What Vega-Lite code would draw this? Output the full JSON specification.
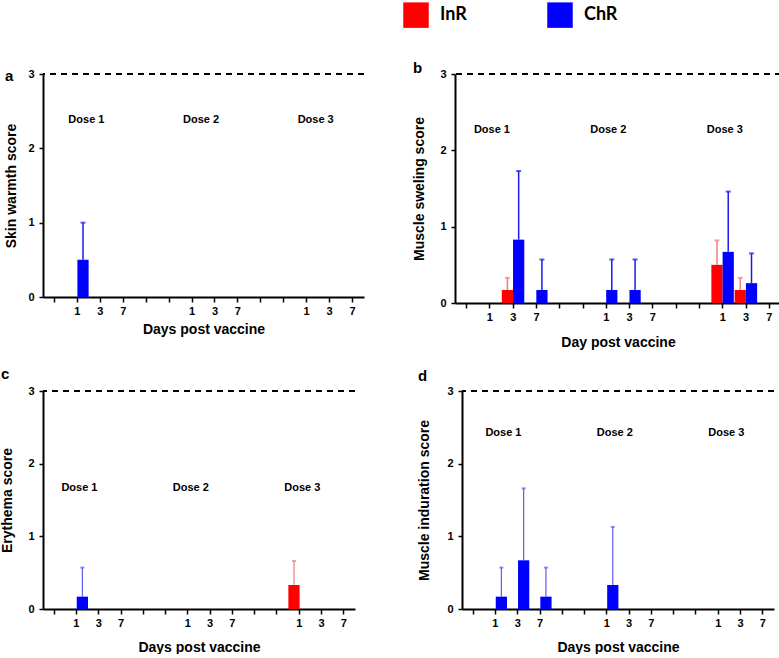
{
  "$schema": "https://vega.github.io/schema/vega-lite/v6.json",
  "padding": {"left": 0, "top": 2, "right": 0, "bottom": 0},
  "background": "white",
  "datasets": {
    "bars": [
      {"panel": "a", "pos": 1, "series": "ChR", "mean": 0.5, "upper": 1.0},
      {"panel": "b", "pos": 2, "series": "InR", "mean": 0.17, "upper": 0.33},
      {"panel": "b", "pos": 2, "series": "ChR", "mean": 0.83, "upper": 1.73},
      {"panel": "b", "pos": 3, "series": "ChR", "mean": 0.17, "upper": 0.57},
      {"panel": "b", "pos": 6, "series": "ChR", "mean": 0.17, "upper": 0.57},
      {"panel": "b", "pos": 7, "series": "ChR", "mean": 0.17, "upper": 0.57},
      {"panel": "b", "pos": 11, "series": "InR", "mean": 0.5, "upper": 0.82},
      {"panel": "b", "pos": 11, "series": "ChR", "mean": 0.67, "upper": 1.46},
      {"panel": "b", "pos": 12, "series": "InR", "mean": 0.17, "upper": 0.33},
      {"panel": "b", "pos": 12, "series": "ChR", "mean": 0.26, "upper": 0.65},
      {"panel": "c", "pos": 1, "series": "ChR", "mean": 0.17, "upper": 0.57},
      {"panel": "c", "pos": 11, "series": "InR", "mean": 0.33, "upper": 0.66},
      {"panel": "d", "pos": 1, "series": "ChR", "mean": 0.17, "upper": 0.57},
      {"panel": "d", "pos": 2, "series": "ChR", "mean": 0.67, "upper": 1.66},
      {"panel": "d", "pos": 3, "series": "ChR", "mean": 0.17, "upper": 0.57},
      {"panel": "d", "pos": 6, "series": "ChR", "mean": 0.33, "upper": 1.13}
    ],
    "doses": [
      {"label": "Dose 1", "pos": 1},
      {"label": "Dose 2", "pos": 6},
      {"label": "Dose 3", "pos": 11}
    ],
    "limit": [{"max_score": 3}]
  },
  "vconcat": [
    {
      "hconcat": [
        {
          "width": 321, "height": 223,
          "title": {"text": "a", "anchor": "start", "frame": "bounds", "offset": -16, "fontSize": 15, "fontWeight": "bold", "font": "Liberation Sans", "color": "black"},
          "layer": [
            {"data": {"name": "bars"}, "transform": [{"filter": "datum.panel === 'a'"}],
             "mark": {"type": "bar"},
             "encoding": {
               "x": {"field": "pos", "type": "ordinal", "scale": {"domain": [0,1,2,3,4,5,6,7,8,9,10,11,12,13], "paddingInner": 0, "paddingOuter": 0},
                     "axis": {"title": "Days post vaccine", "labelAngle": 0, "tickSize": 5, "labelPadding": 3, "titlePadding": 6,
                              "labelExpr": "indexof([1,6,11], datum.value) >= 0 ? '1' : indexof([2,7,12], datum.value) >= 0 ? '3' : indexof([3,8,13], datum.value) >= 0 ? '7' : ''"}},
               "xOffset": {"field": "series", "type": "nominal", "scale": {"domain": ["InR", "ChR"], "paddingOuter": 0.02}},
               "y": {"field": "mean", "type": "quantitative", "scale": {"domain": [0, 3], "nice": false},
                     "axis": {"title": "Skin warmth score", "values": [0,1,2,3], "format": "d", "tickSize": 4, "labelPadding": 5, "titlePadding": 9}},
               "color": {"field": "series", "type": "nominal", "scale": {"domain": ["InR", "ChR"], "range": ["#FF0000", "#0000FF"]},
                         "legend": {"title": null, "orient": "none", "legendX": 360, "legendY": -72, "direction": "horizontal", "symbolType": "square", "symbolSize": 650, "symbolStrokeWidth": 0, "labelFont": "Lato", "labelFontSize": 18, "labelFontWeight": "bold", "labelColor": "black", "columnPadding": 80, "labelOffset": 11}}
             }},
            {"data": {"name": "bars"}, "transform": [{"filter": "datum.panel === 'a'"}],
             "mark": {"type": "rule", "strokeWidth": 1.5},
             "encoding": {
               "x": {"field": "pos", "type": "ordinal"},
               "xOffset": {"field": "series", "type": "nominal"},
               "y": {"field": "mean", "type": "quantitative"},
               "y2": {"field": "upper"},
               "color": {"condition": {"test": "datum.series === 'InR'", "value": "#F07C7C"}, "value": "#1A1AE6"}
             }},
            {"data": {"name": "bars"}, "transform": [{"filter": "datum.panel === 'a'"}],
             "mark": {"type": "tick", "size": 5, "thickness": 2},
             "encoding": {
               "x": {"field": "pos", "type": "ordinal"},
               "xOffset": {"field": "series", "type": "nominal"},
               "y": {"field": "upper", "type": "quantitative"},
               "color": {"condition": {"test": "datum.series === 'InR'", "value": "#F07C7C"}, "value": "#1A1AE6"}
             }},
            {"data": {"name": "limit"},
             "mark": {"type": "rule", "strokeDash": [6, 5], "strokeWidth": 2, "color": "black"},
             "encoding": {"y": {"field": "max_score", "type": "quantitative"}}},
            {"data": {"name": "doses"},
             "mark": {"type": "text", "font": "Liberation Sans", "fontWeight": "bold", "fontSize": 11, "color": "black", "dx": 9},
             "encoding": {"x": {"field": "pos", "type": "ordinal"}, "y": {"datum": 2.38}, "text": {"field": "label"}}}
          ]
        },
        {
          "width": 326, "height": 229,
          "title": {"text": "b", "anchor": "start", "frame": "bounds", "offset": -8, "fontSize": 15, "fontWeight": "bold", "font": "Liberation Sans", "color": "black"},
          "layer": [
            {"data": {"name": "bars"}, "transform": [{"filter": "datum.panel === 'b'"}],
             "mark": {"type": "bar"},
             "encoding": {
               "x": {"field": "pos", "type": "ordinal", "scale": {"domain": [0,1,2,3,4,5,6,7,8,9,10,11,12,13], "paddingInner": 0, "paddingOuter": 0},
                     "axis": {"title": "Day post vaccine", "labelAngle": 0, "tickSize": 5, "labelPadding": 3, "titlePadding": 13,
                              "labelExpr": "indexof([1,6,11], datum.value) >= 0 ? '1' : indexof([2,7,12], datum.value) >= 0 ? '3' : indexof([3,8,13], datum.value) >= 0 ? '7' : ''"}},
               "xOffset": {"field": "series", "type": "nominal", "scale": {"domain": ["InR", "ChR"], "paddingOuter": 0.3}},
               "y": {"field": "mean", "type": "quantitative", "scale": {"domain": [0, 3], "nice": false},
                     "axis": {"title": "Muscle sweling score", "values": [0,1,2,3], "format": "d", "tickSize": 4, "labelPadding": 5, "titlePadding": 13}},
               "color": {"field": "series", "type": "nominal", "scale": {"domain": ["InR", "ChR"], "range": ["#FF0000", "#0000FF"]},
                         "legend": {"title": null, "orient": "none", "legendX": 360, "legendY": -72, "direction": "horizontal", "symbolType": "square", "symbolSize": 650, "symbolStrokeWidth": 0, "labelFont": "Lato", "labelFontSize": 18, "labelFontWeight": "bold", "labelColor": "black", "columnPadding": 80, "labelOffset": 11}}
             }},
            {"data": {"name": "bars"}, "transform": [{"filter": "datum.panel === 'b'"}],
             "mark": {"type": "rule", "strokeWidth": 1.5},
             "encoding": {
               "x": {"field": "pos", "type": "ordinal"},
               "xOffset": {"field": "series", "type": "nominal"},
               "y": {"field": "mean", "type": "quantitative"},
               "y2": {"field": "upper"},
               "color": {"condition": {"test": "datum.series === 'InR'", "value": "#F07C7C"}, "value": "#1A1AE6"}
             }},
            {"data": {"name": "bars"}, "transform": [{"filter": "datum.panel === 'b'"}],
             "mark": {"type": "tick", "size": 5, "thickness": 2},
             "encoding": {
               "x": {"field": "pos", "type": "ordinal"},
               "xOffset": {"field": "series", "type": "nominal"},
               "y": {"field": "upper", "type": "quantitative"},
               "color": {"condition": {"test": "datum.series === 'InR'", "value": "#F07C7C"}, "value": "#1A1AE6"}
             }},
            {"data": {"name": "limit"},
             "mark": {"type": "rule", "strokeDash": [6, 5], "strokeWidth": 2, "color": "black"},
             "encoding": {"y": {"field": "max_score", "type": "quantitative"}}},
            {"data": {"name": "doses"},
             "mark": {"type": "text", "font": "Liberation Sans", "fontWeight": "bold", "fontSize": 11, "color": "black", "dx": 2},
             "encoding": {"x": {"field": "pos", "type": "ordinal"}, "y": {"datum": 2.27}, "text": {"field": "label"}}}
          ]
        }
      ],
      "spacing": 47
    },
    {
      "hconcat": [
        {
          "width": 312, "height": 218,
          "title": {"text": "c", "anchor": "start", "frame": "bounds", "offset": 3, "fontSize": 15, "fontWeight": "bold", "font": "Liberation Sans", "color": "black"},
          "layer": [
            {"data": {"name": "bars"}, "transform": [{"filter": "datum.panel === 'c'"}],
             "mark": {"type": "bar"},
             "encoding": {
               "x": {"field": "pos", "type": "ordinal", "scale": {"domain": [0,1,2,3,4,5,6,7,8,9,10,11,12,13], "paddingInner": 0, "paddingOuter": 0},
                     "axis": {"title": "Days post vaccine", "labelAngle": 0, "tickSize": 5, "labelPadding": 3, "titlePadding": 12,
                              "labelExpr": "indexof([1,6,11], datum.value) >= 0 ? '1' : indexof([2,7,12], datum.value) >= 0 ? '3' : indexof([3,8,13], datum.value) >= 0 ? '7' : ''"}},
               "xOffset": {"field": "series", "type": "nominal", "scale": {"domain": ["InR", "ChR"], "paddingOuter": 0.49}},
               "y": {"field": "mean", "type": "quantitative", "scale": {"domain": [0, 3], "nice": false},
                     "axis": {"title": "Erythema score", "values": [0,1,2,3], "format": "d", "tickSize": 4, "labelPadding": 5, "titlePadding": 13}},
               "color": {"field": "series", "type": "nominal", "scale": {"domain": ["InR", "ChR"], "range": ["#FF0000", "#0000FF"]},
                         "legend": {"title": null, "orient": "none", "legendX": 360, "legendY": -72, "direction": "horizontal", "symbolType": "square", "symbolSize": 650, "symbolStrokeWidth": 0, "labelFont": "Lato", "labelFontSize": 18, "labelFontWeight": "bold", "labelColor": "black", "columnPadding": 80, "labelOffset": 11}}
             }},
            {"data": {"name": "bars"}, "transform": [{"filter": "datum.panel === 'c'"}],
             "mark": {"type": "rule", "strokeWidth": 1.2},
             "encoding": {
               "x": {"field": "pos", "type": "ordinal"},
               "xOffset": {"field": "series", "type": "nominal"},
               "y": {"field": "mean", "type": "quantitative"},
               "y2": {"field": "upper"},
               "color": {"condition": {"test": "datum.series === 'InR'", "value": "#F07C7C"}, "value": "#5C5CEB"}
             }},
            {"data": {"name": "bars"}, "transform": [{"filter": "datum.panel === 'c'"}],
             "mark": {"type": "tick", "size": 4, "thickness": 2},
             "encoding": {
               "x": {"field": "pos", "type": "ordinal"},
               "xOffset": {"field": "series", "type": "nominal"},
               "y": {"field": "upper", "type": "quantitative"},
               "color": {"condition": {"test": "datum.series === 'InR'", "value": "#F07C7C"}, "value": "#5C5CEB"}
             }},
            {"data": {"name": "limit"},
             "mark": {"type": "rule", "strokeDash": [6, 5], "strokeWidth": 2, "color": "black"},
             "encoding": {"y": {"field": "max_score", "type": "quantitative"}}},
            {"data": {"name": "doses"},
             "mark": {"type": "text", "font": "Liberation Sans", "fontWeight": "bold", "fontSize": 11, "color": "black", "dx": 3},
             "encoding": {"x": {"field": "pos", "type": "ordinal"}, "y": {"datum": 1.66}, "text": {"field": "label"}}}
          ]
        },
        {
          "width": 312, "height": 218,
          "title": {"text": "d", "anchor": "start", "frame": "bounds", "offset": 1, "fontSize": 15, "fontWeight": "bold", "font": "Liberation Sans", "color": "black"},
          "layer": [
            {"data": {"name": "bars"}, "transform": [{"filter": "datum.panel === 'd'"}],
             "mark": {"type": "bar"},
             "encoding": {
               "x": {"field": "pos", "type": "ordinal", "scale": {"domain": [0,1,2,3,4,5,6,7,8,9,10,11,12,13], "paddingInner": 0, "paddingOuter": 0},
                     "axis": {"title": "Days post vaccine", "labelAngle": 0, "tickSize": 5, "labelPadding": 3, "titlePadding": 12,
                              "labelExpr": "indexof([1,6,11], datum.value) >= 0 ? '1' : indexof([2,7,12], datum.value) >= 0 ? '3' : indexof([3,8,13], datum.value) >= 0 ? '7' : ''"}},
               "xOffset": {"field": "series", "type": "nominal", "scale": {"domain": ["InR", "ChR"], "paddingOuter": 0.49}},
               "y": {"field": "mean", "type": "quantitative", "scale": {"domain": [0, 3], "nice": false},
                     "axis": {"title": "Muscle induration score", "values": [0,1,2,3], "format": "d", "tickSize": 4, "labelPadding": 5, "titlePadding": 15}},
               "color": {"field": "series", "type": "nominal", "scale": {"domain": ["InR", "ChR"], "range": ["#FF0000", "#0000FF"]},
                         "legend": {"title": null, "orient": "none", "legendX": 360, "legendY": -72, "direction": "horizontal", "symbolType": "square", "symbolSize": 650, "symbolStrokeWidth": 0, "labelFont": "Lato", "labelFontSize": 18, "labelFontWeight": "bold", "labelColor": "black", "columnPadding": 80, "labelOffset": 11}}
             }},
            {"data": {"name": "bars"}, "transform": [{"filter": "datum.panel === 'd'"}],
             "mark": {"type": "rule", "strokeWidth": 1.2},
             "encoding": {
               "x": {"field": "pos", "type": "ordinal"},
               "xOffset": {"field": "series", "type": "nominal"},
               "y": {"field": "mean", "type": "quantitative"},
               "y2": {"field": "upper"},
               "color": {"condition": {"test": "datum.series === 'InR'", "value": "#F07C7C"}, "value": "#5C5CEB"}
             }},
            {"data": {"name": "bars"}, "transform": [{"filter": "datum.panel === 'd'"}],
             "mark": {"type": "tick", "size": 4, "thickness": 2},
             "encoding": {
               "x": {"field": "pos", "type": "ordinal"},
               "xOffset": {"field": "series", "type": "nominal"},
               "y": {"field": "upper", "type": "quantitative"},
               "color": {"condition": {"test": "datum.series === 'InR'", "value": "#F07C7C"}, "value": "#5C5CEB"}
             }},
            {"data": {"name": "limit"},
             "mark": {"type": "rule", "strokeDash": [6, 5], "strokeWidth": 2, "color": "black"},
             "encoding": {"y": {"field": "max_score", "type": "quantitative"}}},
            {"data": {"name": "doses"},
             "mark": {"type": "text", "font": "Liberation Sans", "fontWeight": "bold", "fontSize": 11, "color": "black", "dx": 8},
             "encoding": {"x": {"field": "pos", "type": "ordinal"}, "y": {"datum": 2.42}, "text": {"field": "label"}}}
          ]
        }
      ],
      "spacing": 61
    }
  ],
  "spacing": 18,
  "config": {
    "view": {"stroke": null},
    "font": "Liberation Sans",
    "axis": {"domainColor": "black", "domainWidth": 2, "tickColor": "black", "tickWidth": 1.5, "grid": false,
             "labelFont": "Liberation Sans", "labelFontWeight": "bold", "labelFontSize": 11, "labelColor": "black",
             "titleFont": "Liberation Sans", "titleFontWeight": "bold", "titleFontSize": 14, "titleColor": "black"}
  }
}
